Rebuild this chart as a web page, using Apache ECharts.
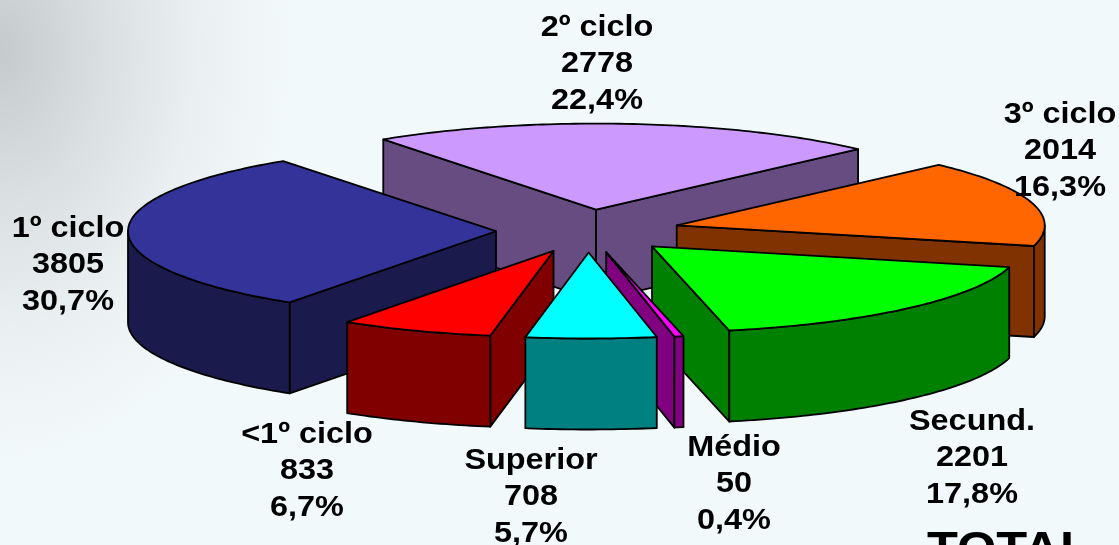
<!DOCTYPE html>
<html>
<head>
<meta charset="utf-8">
<style>
html,body{margin:0;padding:0;width:100%;height:100%;overflow:hidden;background:#f2f9fb;}
#bg{position:absolute;left:0;top:0;width:1119px;height:545px;
  background:radial-gradient(ellipse 290px 410px at 0px 50px,#c5cacc 0%,#dbe1e2 38%,#eaf0f1 68%,#f2f9fb 100%);}
#main{position:absolute;left:0;top:0;width:1119px;height:545px;}
</style>
</head>
<body>
<div id="bg"></div>
<div id="main"></div>
<script src="https://cdn.jsdelivr.net/npm/echarts@6/dist/echarts.min.js"></script>
<script>
// pie order, clockwise
var categories = ['<1º ciclo', '1º ciclo', '2º ciclo', '3º ciclo', 'Secund.', 'Médio', 'Superior'];
var values = [833, 3805, 2778, 2014, 2201, 50, 708];

var topColors = ['#ff0000', '#333399', '#cc99ff', '#ff6600', '#00ff00', '#ff00ff', '#00ffff'];
var sideColors = ['#800000', '#1a1a4d', '#664c80', '#803300', '#008000', '#800080', '#008080'];
// back to front
var drawRank = [3, 1, 0, 2, 4, 5, 6];
var labelPos = [[307, 471], [68, 265], [597, 64], [1060, 151], [972, 458], [734, 484], [531, 497]];

var cx = 588, cy = 231, rx = 368, ry = 86, depth = 91, explode = 0.25, startAngle = 189.9;
var fontSize = 30, stretch = 1.08;

var total = 0;
for (var k = 0; k < values.length; k++) total += values[k];

function pt(ax, ay, deg) {
  var r = deg * Math.PI / 180;
  return [ax + rx * Math.sin(r), ay - ry * Math.cos(r)];
}

function face(points, color, z) {
  return {
    type: 'polygon',
    z2: z,
    shape: { points: points },
    style: { fill: color, stroke: '#000', lineWidth: 1.8, lineJoin: 'round' }
  };
}

function wall(points) {
  var out = points.slice();
  for (var i = points.length - 1; i >= 0; i--) out.push([points[i][0], points[i][1] + depth]);
  return out;
}

function arcPoints(ax, ay, from, to) {
  var pts = [];
  for (var d = from; d < to; d += 1) pts.push(pt(ax, ay, d));
  pts.push(pt(ax, ay, to));
  return pts;
}

function renderSlice(params, api) {
  var i = params.dataIndex;
  var value = api.value(0);
  var before = 0;
  for (var j = 0; j < i; j++) before += values[j];
  var a0 = startAngle + before / total * 360;
  var a1 = a0 + value / total * 360;
  var mid = (a0 + a1) / 2;
  var apex = pt(cx, cy, mid);
  apex = [cx + (apex[0] - cx) * explode, cy + (apex[1] - cy) * explode];
  var z = drawRank[i] * 10;
  var children = [];
  var rim0 = pt(apex[0], apex[1], a0);
  var rim1 = pt(apex[0], apex[1], a1);

  // only walls turned to the viewer
  if (rim0[0] < apex[0]) children.push(face(wall([apex, rim0]), sideColors[i], z));
  if (rim1[0] > apex[0]) children.push(face(wall([apex, rim1]), sideColors[i], z + 1));
  var w0 = Math.max(a0, 90), w1 = Math.min(a1, 270);
  var w0b = Math.max(a0, 450), w1b = Math.min(a1, 630);
  if (w1 > w0) children.push(face(wall(arcPoints(apex[0], apex[1], w0, w1)), sideColors[i], z + 2));
  if (w1b > w0b) children.push(face(wall(arcPoints(apex[0], apex[1], w0b, w1b)), sideColors[i], z + 2));

  children.push(face([apex].concat(arcPoints(apex[0], apex[1], a0, a1)), topColors[i], z + 3));

  var pct = (value / total * 100).toFixed(1).replace('.', ',') + '%';
  children.push({
    type: 'text',
    z2: 200,
    x: labelPos[i][0],
    y: labelPos[i][1],
    scaleX: stretch,
    style: {
      text: categories[i] + '\n' + value + '\n' + pct,
      fill: '#000',
      font: 'bold ' + fontSize + 'px "Liberation Sans"',
      lineHeight: 36.5,
      align: 'center',
      verticalAlign: 'middle'
    }
  });
  return { type: 'group', children: children };
}

var myChart = echarts.init(document.getElementById('main'), null, { renderer: 'canvas' });
myChart.setOption({
  animation: false,
  backgroundColor: 'transparent',
  graphic: [{
    type: 'text',
    x: 927,
    y: 528,
    scaleX: 1.1,
    style: { text: 'TOTAL', fill: '#000', font: 'bold 46px "Liberation Sans"' }
  }],
  series: [{
    type: 'custom',
    coordinateSystem: 'none',
    renderItem: renderSlice,
    clip: false,
    encode: { value: 0 },
    data: values.map(function (v) { return [v]; })
  }]
});
</script>
</body>
</html>
